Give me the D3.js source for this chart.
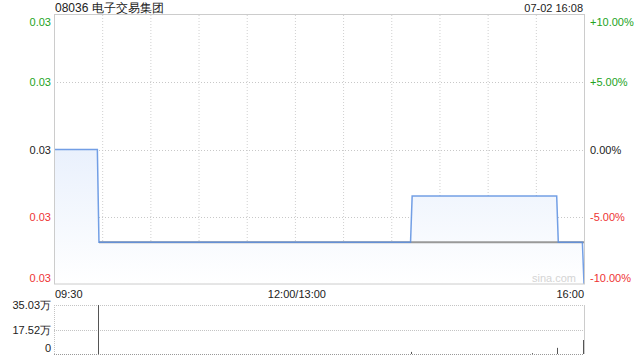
<!DOCTYPE html>
<html><head><meta charset="utf-8">
<script src="https://cdn.jsdelivr.net/npm/d3@7/dist/d3.min.js"></script>
<style>body{margin:0;background:#fff}svg{display:block;font-family:"Liberation Sans",Arial,sans-serif}</style>
</head><body><svg id="c" width="640" height="360"></svg>
<script>
const title = "08036 电子交易集团";
const stamp = "07-02 16:08";
const prevClose = 0.029;
const priceTimes = ["09:30","09:57","09:58","14:12","14:13","15:43","15:44","15:59","16:00"];
const priceValues = [0.029,0.029,0.027,0.027,0.028,0.028,0.027,0.027,0.026];
const avgTimes = ["09:58","16:00"];
const avgValues = [0.027,0.027];
const volTimes = ["09:58","14:13","15:28","15:44","16:00"];
const volValues = [350300,15000,6000,44000,100000];
const pctTicks = [0.10,0.05,0,-0.05,-0.10];
const pctLabels = ["+10.00%","+5.00%","0.00%","-5.00%","-10.00%"];
const priceLabels = ["0.03","0.03","0.03","0.03","0.03"];
const volTicks = [350300,175150,0];
const volLabels = ["35.03万","17.52万","0"];
const timeLabels = ["09:30","12:00/13:00","16:00"];

const svg = d3.select("#c");
const L = 54, R = 584, T = 15, B = 284, VT = 305, VB = 354;
const green = "#22a322", red = "#ee3333", dark = "#222";

function toMin(s){const [h,m]=s.split(":").map(Number);let t=h*60+m-570;if(t>150)t-=60;return t;}
const x = d3.scaleLinear().domain([0,330]).range([L,R]);
const y = d3.scaleLinear().domain([-0.10,0.10]).range([B,T]).clamp(true);
const pct = p => p/prevClose-1;
const yv = d3.scaleLinear().domain([0,350300]).range([VB,VT]);

const defs = svg.append("defs");
const g = defs.append("linearGradient").attr("id","fill").attr("gradientUnits","userSpaceOnUse")
  .attr("x1",0).attr("x2",0).attr("y1",T).attr("y2",B);
g.append("stop").attr("offset","0%").attr("stop-color","#d4e2fa");
g.append("stop").attr("offset","100%").attr("stop-color","#ffffff");

// grid
const gridTimes = d3.range(30,330,30);
svg.append("g").selectAll("line").data(gridTimes).join("line")
  .attr("x1",d=>x(d)+0.5).attr("x2",d=>x(d)+0.5).attr("y1",T).attr("y2",B)
  .attr("stroke","#d0d0d0").attr("stroke-dasharray","1,2");
svg.append("g").selectAll("line").data([0.05,0,-0.05]).join("line")
  .attr("x1",L).attr("x2",R).attr("y1",d=>Math.round(y(d))+0.5).attr("y2",d=>Math.round(y(d))+0.5)
  .attr("stroke","#c8c8c8").attr("stroke-dasharray","1,2");

// area + lines
const pts = priceTimes.map((t,i)=>({t:toMin(t),v:pct(priceValues[i])}));
svg.append("path").datum(pts).attr("fill","url(#fill)")
  .attr("d",d3.area().x(d=>x(d.t)).y0(B).y1(d=>y(d.v)));
const apts = avgTimes.map((t,i)=>({t:toMin(t),v:pct(avgValues[i])}));
svg.append("path").datum(apts).attr("fill","none").attr("stroke","#999").attr("stroke-width",2)
  .attr("d",d3.line().x(d=>x(d.t)).y(d=>y(d.v)));
svg.append("path").datum(pts).attr("fill","none").attr("stroke","#5b8ee0").attr("stroke-width",1.5).attr("stroke-opacity",0.85)
  .attr("d",d3.line().x(d=>x(d.t)).y(d=>y(d.v)));

// frame
svg.append("rect").attr("x",L+0.5).attr("y",T-0.5).attr("width",R-L).attr("height",B-T+0.5)
  .attr("fill","none").attr("stroke","#cccccc");

// watermark
svg.append("text").attr("x",R-8).attr("y",B-2).attr("text-anchor","end").attr("font-size",11)
  .attr("fill","#d4d4d4").text("sina.com");

// labels
svg.append("text").attr("x",L+1).attr("y",12).attr("font-size",12).attr("fill",dark).text(title);
svg.append("text").attr("x",R-1).attr("y",12).attr("font-size",11).attr("text-anchor","end").attr("fill",dark).text(stamp);
const col = v => v>0?green:(v<0?red:dark);
const labelY = v => Math.min(Math.max(y(v),T+7),B-6);
svg.append("g").selectAll("text").data(pctTicks).join("text")
  .attr("x",L-3).attr("y",d=>labelY(d)+4).attr("text-anchor","end").attr("font-size",11)
  .attr("fill",col).text((d,i)=>priceLabels[i]);
svg.append("g").selectAll("text").data(pctTicks).join("text")
  .attr("x",590).attr("y",d=>labelY(d)+4).attr("font-size",11)
  .attr("fill",col).text((d,i)=>pctLabels[i]);

const tl = [{t:0,a:"start",dx:1},{t:150,a:"middle",dx:2},{t:330,a:"end",dx:0}];
svg.append("g").selectAll("text").data(tl).join("text")
  .attr("x",d=>x(d.t)+d.dx).attr("y",298).attr("text-anchor",d=>d.a).attr("font-size",11)
  .attr("fill",dark).text((d,i)=>timeLabels[i]);

// volume panel
svg.append("g").selectAll("line").data(volTicks).join("line")
  .attr("x1",L).attr("x2",R).attr("y1",d=>Math.round(yv(d))+0.5).attr("y2",d=>Math.round(yv(d))+0.5)
  .attr("stroke",d=>d===0?"#999":"#c4c4c4").attr("stroke-dasharray","1,1");
svg.append("line").attr("x1",L+0.5).attr("x2",L+0.5).attr("y1",VT).attr("y2",VB)
  .attr("stroke","#c4c4c4").attr("stroke-dasharray","1,1");
svg.append("line").attr("x1",R+0.5).attr("x2",R+0.5).attr("y1",VT).attr("y2",VB)
  .attr("stroke","#cccccc");
svg.append("g").selectAll("line").data(volTimes.map((t,i)=>({t:toMin(t),v:volValues[i]}))).join("line")
  .attr("x1",d=>Math.round(x(d.t))-0.5).attr("x2",d=>Math.round(x(d.t))-0.5)
  .attr("y1",VB).attr("y2",d=>yv(d.v)).attr("stroke","#555").attr("stroke-width",1);
svg.append("g").selectAll("text").data(volTicks).join("text")
  .attr("x",L-3).attr("y",(d,i)=>[309,334,352][i]).attr("text-anchor","end").attr("font-size",11)
  .attr("fill",dark).text((d,i)=>volLabels[i]);
</script></body></html>
